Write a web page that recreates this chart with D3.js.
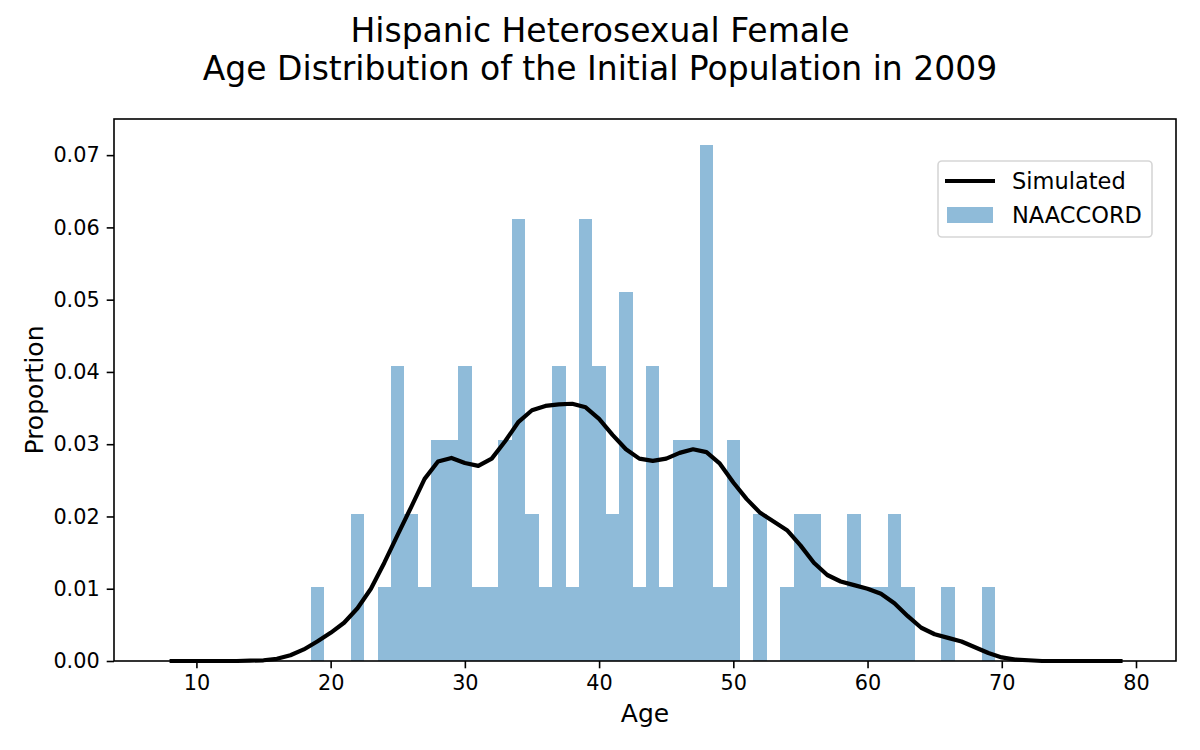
<!DOCTYPE html>
<html lang="en">
<head>
    <meta charset="UTF-8">
    <script src="https://d3js.org/d3.v7.min.js"></script>
    <title>Hispanic Heterosexual Female Age Distribution</title>
    <style>
        body {
            margin: 0;
            background: #fff;
        }
        svg {
            display: block;
            font-family: 'DejaVu Sans', sans-serif;
        }
    </style>
</head>
<body>
    <svg width="1200" height="750"></svg>

    <script>
        // NAACCORD histogram (age -> proportion)
        const histAges = [19, 22, 24, 25, 26, 27, 28, 29, 30, 31, 32, 33, 34, 35, 36, 37, 38, 39, 40, 41,
            42, 43, 44, 45, 46, 47, 48, 49, 50, 52, 54, 55, 56, 57, 58, 59, 60, 61, 62, 63, 66, 69];
        const histProps = [0.0102, 0.0204, 0.0102, 0.0408, 0.0204, 0.0102, 0.0306, 0.0306, 0.0408, 0.0102,
            0.0102, 0.0306, 0.0612, 0.0204, 0.0102, 0.0408, 0.0102, 0.0612, 0.0408, 0.0204,
            0.0510, 0.0102, 0.0408, 0.0102, 0.0306, 0.0306, 0.0714, 0.0102, 0.0306, 0.0204,
            0.0102, 0.0204, 0.0204, 0.0102, 0.0102, 0.0204, 0.0102, 0.0102, 0.0204, 0.0102,
            0.0102, 0.0102];

        // simulated curve
        const simAges = [8, 9, 10, 11, 12, 13, 14, 15, 16, 17, 18, 19, 20, 21, 22, 23, 24, 25, 26, 27,
            28, 29, 30, 31, 32, 33, 34, 35, 36, 37, 38, 39, 40, 41, 42, 43, 44, 45, 46, 47,
            48, 49, 50, 51, 52, 53, 54, 55, 56, 57, 58, 59, 60, 61, 62, 63, 64, 65, 66, 67,
            68, 69, 70, 71, 72, 73, 74, 75, 76, 77, 78, 79];
        const simProps = [0, 0, 0, 0, 0, 0, 0.00005, 0.0001, 0.0003, 0.0008, 0.0016, 0.0027, 0.0039, 0.0053, 0.0073, 0.0100, 0.0136, 0.0175, 0.0213, 0.0252,
            0.0276, 0.0281, 0.0274, 0.0270, 0.0280, 0.0304, 0.0331, 0.0347, 0.0353, 0.0355, 0.0356, 0.0351, 0.0335, 0.0313, 0.0293, 0.0280, 0.0277, 0.0280, 0.0288, 0.0293,
            0.0289, 0.0273, 0.0247, 0.0224, 0.0205, 0.0193, 0.0181, 0.0160, 0.0136, 0.0119, 0.0110, 0.0105, 0.0100, 0.0093, 0.0080, 0.0062, 0.0046, 0.0037, 0.0032, 0.0027,
            0.0019, 0.0011, 0.0005, 0.0002, 0.0001, 0, 0, 0, 0, 0, 0, 0];

        const xTicks = [10, 20, 30, 40, 50, 60, 70, 80];
        const yTicks = [0, 0.01, 0.02, 0.03, 0.04, 0.05, 0.06, 0.07];

        const titleLines = ['Hispanic Heterosexual Female', 'Age Distribution of the Initial Population in 2009'];

        const margin = { top: 119, right: 24, bottom: 89, left: 114 };
        const width = 1200;
        const height = 750;
        const barColor = '#8fbbd9';

        const xScale = d3.scaleLinear()
            .domain([3.86, 82.98])
            .range([margin.left, width - margin.right]);

        const yScale = d3.scaleLinear()
            .domain([0, 0.075])
            .range([height - margin.bottom, margin.top]);

        const svg = d3.select('svg');

        // title
        svg.append('text')
            .attr('x', (margin.left + width - margin.right) / 2)
            .attr('text-anchor', 'middle')
            .style('font-size', '33px')
            .selectAll('tspan')
            .data(titleLines)
            .enter().append('tspan')
            .attr('x', 600)
            .attr('y', (d, i) => 42 + i * 38)
            .text(d => d);

        // bars
        svg.append('g')
            .selectAll('rect')
            .data(histAges)
            .enter().append('rect')
            .attr('x', d => xScale(d - 0.5))
            .attr('width', d => xScale(d + 0.5) - xScale(d - 0.5))
            .attr('y', (d, i) => yScale(histProps[i]))
            .attr('height', (d, i) => yScale(0) - yScale(histProps[i]))
            .attr('fill', barColor)
            .attr('shape-rendering', 'crispEdges');

        // simulated line
        const line = d3.line()
            .x(d => xScale(d[0]))
            .y(d => yScale(d[1]));

        svg.append('path')
            .datum(simAges.map((a, i) => [a, simProps[i]]))
            .attr('d', line)
            .attr('fill', 'none')
            .attr('stroke', '#000')
            .attr('stroke-width', 4.2)
            .attr('stroke-linejoin', 'round');

        // axes
        const xAxis = d3.axisBottom(xScale)
            .tickValues(xTicks)
            .tickSize(7.3)
            .tickPadding(7)
            .tickFormat(d3.format('d'));

        const yAxis = d3.axisLeft(yScale)
            .tickValues(yTicks)
            .tickSize(7.3)
            .tickPadding(7)
            .tickFormat(d3.format('.2f'));

        const gx = svg.append('g')
            .attr('transform', `translate(0, ${height - margin.bottom})`)
            .call(xAxis);

        const gy = svg.append('g')
            .attr('transform', `translate(${margin.left}, 0)`)
            .call(yAxis);

        [gx, gy].forEach(g => {
            g.select('.domain').remove();
            g.selectAll('.tick line').attr('stroke', '#000').attr('stroke-width', 1.6);
            g.selectAll('.tick text')
                .attr('fill', '#000')
                .style('font-family', "'DejaVu Sans', sans-serif")
                .style('font-size', '20.8px');
        });

        // frame
        svg.append('rect')
            .attr('x', margin.left)
            .attr('y', margin.top)
            .attr('width', width - margin.left - margin.right)
            .attr('height', height - margin.top - margin.bottom)
            .attr('fill', 'none')
            .attr('stroke', '#000')
            .attr('stroke-width', 1.6);

        // axis labels
        svg.append('text')
            .attr('x', (margin.left + width - margin.right) / 2)
            .attr('y', 722)
            .attr('text-anchor', 'middle')
            .style('font-size', '25px')
            .text('Age');

        svg.append('text')
            .attr('transform', `translate(43, ${(margin.top + height - margin.bottom) / 2}) rotate(-90)`)
            .attr('text-anchor', 'middle')
            .style('font-size', '25px')
            .text('Proportion');

        // legend
        const legend = svg.append('g');

        legend.append('rect')
            .attr('x', 938)
            .attr('y', 161)
            .attr('width', 214)
            .attr('height', 76)
            .attr('rx', 4)
            .attr('fill', '#fff')
            .attr('stroke', '#d6d6d6')
            .attr('stroke-width', 1.6);

        legend.append('line')
            .attr('x1', 945)
            .attr('x2', 995)
            .attr('y1', 181)
            .attr('y2', 181)
            .attr('stroke', '#000')
            .attr('stroke-width', 4.2);

        legend.append('rect')
            .attr('x', 947)
            .attr('y', 207)
            .attr('width', 46)
            .attr('height', 16)
            .attr('fill', barColor);

        legend.selectAll('text.lab')
            .data(['Simulated', 'NAACCORD'])
            .enter().append('text')
            .attr('class', 'lab')
            .attr('x', 1012)
            .attr('y', (d, i) => 189 + i * 34)
            .style('font-size', '22.5px')
            .text(d => d);
    </script>
</body>
</html>
